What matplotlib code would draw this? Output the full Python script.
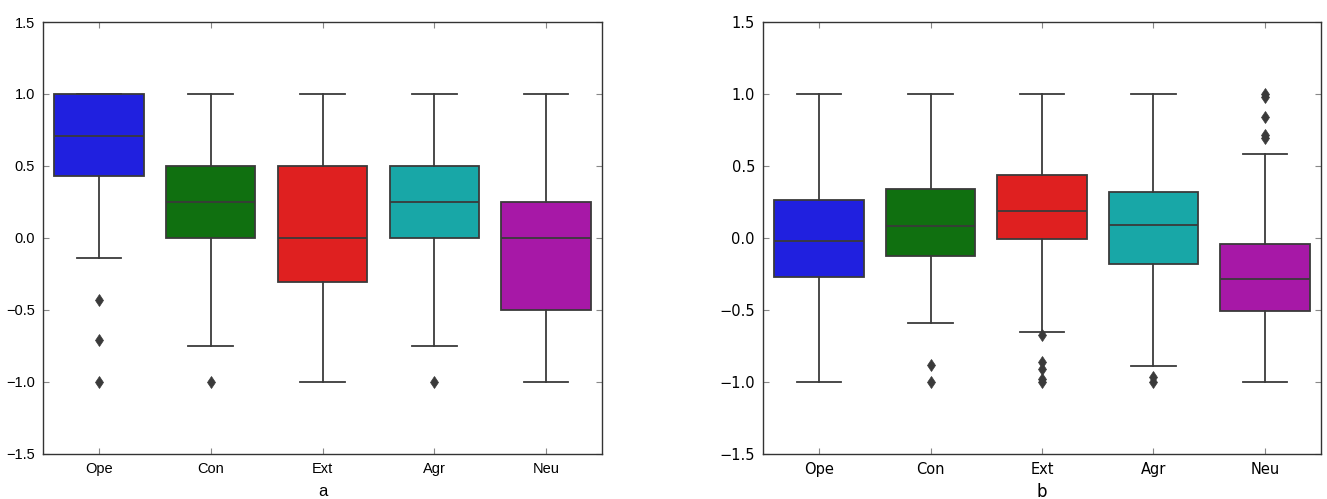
import matplotlib
matplotlib.use("Agg")
import matplotlib.pyplot as plt
import colorsys
import matplotlib.colors as mcolors

categories = ["Ope", "Con", "Ext", "Agr", "Neu"]

# Panel a stats
a_q1 = [0.43, 0.0, -0.31, 0.0, -0.5]
a_med = [0.71, 0.25, 0.0, 0.25, 0.0]
a_q3 = [1.0, 0.5, 0.5, 0.5, 0.25]
a_whislo = [-0.14, -0.75, -1.0, -0.75, -1.0]
a_whishi = [1.0, 1.0, 1.0, 1.0, 1.0]
a_fliers = [[-0.43, -0.71, -1.0], [-1.0], [], [-1.0], []]

# Panel b stats
b_q1 = [-0.274, -0.124, -0.011, -0.179, -0.506]
b_med = [-0.02, 0.08, 0.188, 0.087, -0.286]
b_q3 = [0.262, 0.341, 0.436, 0.316, -0.045]
b_whislo = [-1.0, -0.589, -0.654, -0.89, -1.0]
b_whishi = [1.0, 1.0, 1.0, 1.0, 0.582]
b_fliers = [[],
            [-0.883, -1.0],
            [-0.675, -0.86, -0.913, -0.982, -1.0],
            [-0.964, -1.0],
            [1.0, 0.98, 0.843, 0.716, 0.695]]

panel_labels = ["a", "b"]
base_colors = ["b", "g", "r", "c", "m"]


def desat(c, s=0.75):
    r, g, b = mcolors.to_rgb(c)
    h, l, sat = colorsys.rgb_to_hls(r, g, b)
    return colorsys.hls_to_rgb(h, l, sat * s)


colors = [desat(c) for c in base_colors]
line_col = "#3a3a3a"

fig = plt.figure(figsize=(13.27, 4.99), dpi=100)
ax_a = fig.add_axes([43.3 / 1327, 1 - 453.7 / 499, 558.4 / 1327, 431.7 / 499])
ax_b = fig.add_axes([763.3 / 1327, 1 - 453.7 / 499, 557.4 / 1327, 431.7 / 499])


def draw(ax, q1, med, q3, wlo, whi, fl, label, family):
    stats = []
    for i in range(len(categories)):
        stats.append(dict(med=med[i], q1=q1[i], q3=q3[i], whislo=wlo[i],
                          whishi=whi[i], fliers=fl[i], label=categories[i]))
    lw = 1.3
    bp = ax.bxp(stats, positions=range(len(categories)), widths=0.8,
                patch_artist=True, showfliers=True,
                boxprops=dict(edgecolor=line_col, linewidth=lw),
                medianprops=dict(color=line_col, linewidth=lw),
                whiskerprops=dict(color=line_col, linewidth=lw),
                capprops=dict(color=line_col, linewidth=lw),
                flierprops=dict(marker="d", markerfacecolor=line_col,
                                markeredgecolor=line_col, markersize=6,
                                markeredgewidth=0.5, linestyle="none"))
    for patch, c in zip(bp["boxes"], colors):
        patch.set_facecolor(c)
    ax.set_xlim(-0.5, len(categories) - 0.5)
    ax.set_ylim(-1.5, 1.5)
    ax.set_yticks([-1.5, -1.0, -0.5, 0.0, 0.5, 1.0, 1.5])
    ax.set_yticklabels(["\u22121.5", "\u22121.0", "\u22120.5", "0.0", "0.5", "1.0", "1.5"],
                       family=family, fontsize=10.5)
    ax.set_xticks(range(len(categories)))
    ax.set_xticklabels(categories, family=family, fontsize=10.5)
    ax.tick_params(direction="in", top=True, right=True, length=4,
                   color="#888888", pad=6)
    for s in ax.spines.values():
        s.set_color("#333333")
        s.set_linewidth(1.0)
    bb = ax.get_position()
    fig.text((bb.x0 + bb.x1) / 2, 1 - 492 / 499, label, family=family,
             fontsize=12, ha="center", va="center")


draw(ax_a, a_q1, a_med, a_q3, a_whislo, a_whishi, a_fliers, panel_labels[0], "Liberation Sans")
draw(ax_b, b_q1, b_med, b_q3, b_whislo, b_whishi, b_fliers, panel_labels[1], "DejaVu Sans")

fig.savefig("out.png", dpi=100)
